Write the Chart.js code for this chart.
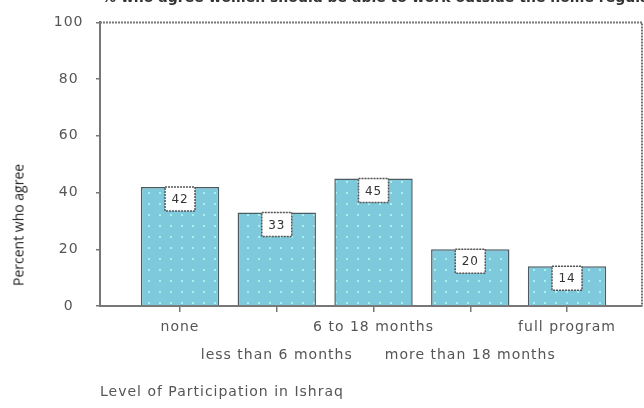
<!DOCTYPE html>
<html>
<head>
<meta charset="utf-8">
<script src="https://cdn.jsdelivr.net/npm/chart.js@4"></script>
<style>
  html, body { margin: 0; padding: 0; background: #fff; overflow: hidden; }
  #wrap { position: relative; width: 644px; height: 408px; }
  #title { position: absolute; left: 102px; top: -11px; white-space: nowrap; font: bold 14px 'DejaVu Sans'; color: #333; }
  #ytitle { position: absolute; left: 18px; top: 225px; transform: translate(-50%, -50%) rotate(-90deg); white-space: nowrap; font: 14px 'Open Sans'; color: #222; }
</style>
</head>
<body>
<div id="wrap">
  <canvas id="chart"></canvas>
  <div id="title">% who agree women should be able to work outside the home regularly and earn</div>
  <div id="ytitle">Percent who agree</div>
</div>
<script>
const categories = ['none', 'less than 6 months', '6 to 18 months', 'more than 18 months', 'full program'];
const percentAgree = [42, 33, 45, 20, 14];
const yTicks = [0, 20, 40, 60, 80, 100];

// dotted light-blue fill like the original
function dotPattern() {
  const c = document.createElement('canvas');
  c.width = 11; c.height = 11;
  const g = c.getContext('2d');
  g.fillStyle = '#7fc9dd';
  g.fillRect(0, 0, 11, 11);
  g.fillStyle = '#a6f2ee';
  g.fillRect(5, 5, 2, 2);
  return g.createPattern(c, 'repeat');
}

// the old chart font is spaced out a bit
const spacing = {
  id: 'spacing',
  beforeDraw(chart) { chart.ctx.letterSpacing = '1px'; }
};

const frameLines = {
  id: 'frameLines',
  afterDraw(chart) {
    const { ctx, chartArea: a } = chart;
    ctx.save();
    ctx.strokeStyle = '#777';
    ctx.lineWidth = 2;
    ctx.setLineDash([2, 1]);
    ctx.beginPath();
    ctx.moveTo(a.left, a.top);
    ctx.lineTo(a.right, a.top);
    ctx.lineTo(a.right, a.bottom);
    ctx.stroke();
    ctx.restore();
  }
};

const valueBoxes = {
  id: 'valueBoxes',
  afterDatasetsDraw(chart) {
    const { ctx } = chart;
    const meta = chart.getDatasetMeta(0);
    ctx.save();
    meta.data.forEach((bar, i) => {
      const w = 30, h = 24;
      const x = bar.x - w / 2, y = bar.y;
      ctx.fillStyle = '#fff';
      ctx.fillRect(x, y, w, h);
      ctx.strokeStyle = '#555';
      ctx.lineWidth = 1.5;
      ctx.setLineDash([2, 1]);
      ctx.strokeRect(x, y, w, h);
      ctx.setLineDash([]);
      ctx.fillStyle = '#333';
      ctx.font = '12px "DejaVu Sans"';
      ctx.textAlign = 'center';
      ctx.textBaseline = 'middle';
      ctx.fillText(String(percentAgree[i]), bar.x, y + h / 2 + 1);
    });
    ctx.restore();
  }
};

new Chart(document.getElementById('chart'), {
  type: 'bar',
  data: {
    datasets: [{
      data: percentAgree.map((v, i) => ({ x: i, y: v })),
      backgroundColor: dotPattern(),
      borderColor: '#4b5b60',
      borderWidth: 1.5,
      barPercentage: 0.9,
      categoryPercentage: 0.9
    }]
  },
  options: {
    responsive: true,
    maintainAspectRatio: false,
    animation: false,
    layout: { padding: { top: 22, right: 2, left: 0, bottom: 0 } },
    plugins: { legend: { display: false }, tooltip: { enabled: false } },
    scales: {
      x: {
        type: 'linear',
        offset: false,
        min: -0.827,
        max: 4.775,
        afterBuildTicks: s => { s.ticks = categories.map((_, i) => ({ value: i })); },
        afterFit: s => { s.height = 102; },
        ticks: {
          autoSkip: false,
          maxRotation: 0,
          padding: 1,
          color: '#555',
          font: { family: 'DejaVu Sans', size: 14, lineHeight: 2 },
          callback: v => (v % 2 === 0 ? [categories[v]] : ['', categories[v]])
        },
        grid: { offset: false, drawOnChartArea: false, tickLength: 6, color: '#777', lineWidth: 1.5 },
        border: { color: '#777', width: 2, dash: [2, 1] },
        title: {
          display: true,
          text: 'Level of Participation in Ishraq',
          align: 'start',
          color: '#555',
          font: { family: 'DejaVu Sans', size: 14 },
          padding: { top: 0, bottom: 7 }
        }
      },
      y: {
        min: 0,
        max: 100,
        afterBuildTicks: s => { s.ticks = yTicks.map(v => ({ value: v })); },
        afterFit: s => { s.width = 100; },
        ticks: {
          crossAlign: 'center',
          padding: 14,
          color: '#555',
          font: { family: 'DejaVu Sans', size: 14 }
        },
        grid: { drawOnChartArea: false, tickLength: 4, color: '#777', lineWidth: 1.5 },
        border: { color: '#777', width: 2, dash: [2, 1] }
      }
    }
  },
  plugins: [spacing, frameLines, valueBoxes]
});
</script>
</body>
</html>
